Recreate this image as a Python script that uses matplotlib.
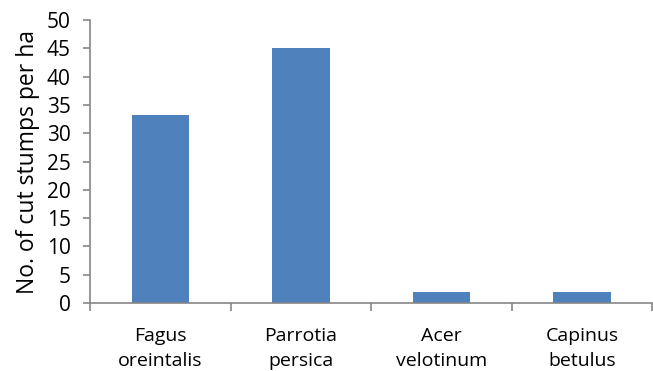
import numpy as np
import matplotlib.pyplot as plt

species = ["Fagus\noreintalis", "Parrotia\npersica", "Acer\nvelotinum", "Capinus\nbetulus"]
stumps = [33.2, 45, 2, 2]
y_ticks = [0, 5, 10, 15, 20, 25, 30, 35, 40, 45, 50]

plt.rcParams["font.family"] = ["Open Sans", "DejaVu Sans"]

fig = plt.figure(figsize=(6.53, 3.71), dpi=100)
ax = fig.add_axes([0.138, 0.183, 0.861, 0.763])

x = np.arange(len(species))
ax.bar(x, stumps, width=0.41, color="#4F81BD")

ax.set_xlim(-0.5, len(species) - 0.5)
ax.set_ylim(0, 50)
ax.set_yticks(y_ticks)
ax.set_xticks(x)
ax.set_xticklabels(species, fontsize=14, linespacing=1.55)
ax.set_xticks(np.arange(-0.5, len(species)), minor=True)
ax.tick_params(axis="x", which="major", length=0, pad=17)
ax.tick_params(axis="x", which="minor", length=6, color="#868686", width=1.2)
ax.tick_params(axis="y", length=5, color="#868686", width=1.2, labelsize=15, pad=9)

for side in ["top", "right"]:
    ax.spines[side].set_visible(False)
for side in ["left", "bottom"]:
    ax.spines[side].set_color("#868686")
    ax.spines[side].set_linewidth(1.2)

ax.set_ylabel("No. of cut stumps per ha", fontsize=16.5, labelpad=5)

fig.savefig("out.png", dpi=100)
